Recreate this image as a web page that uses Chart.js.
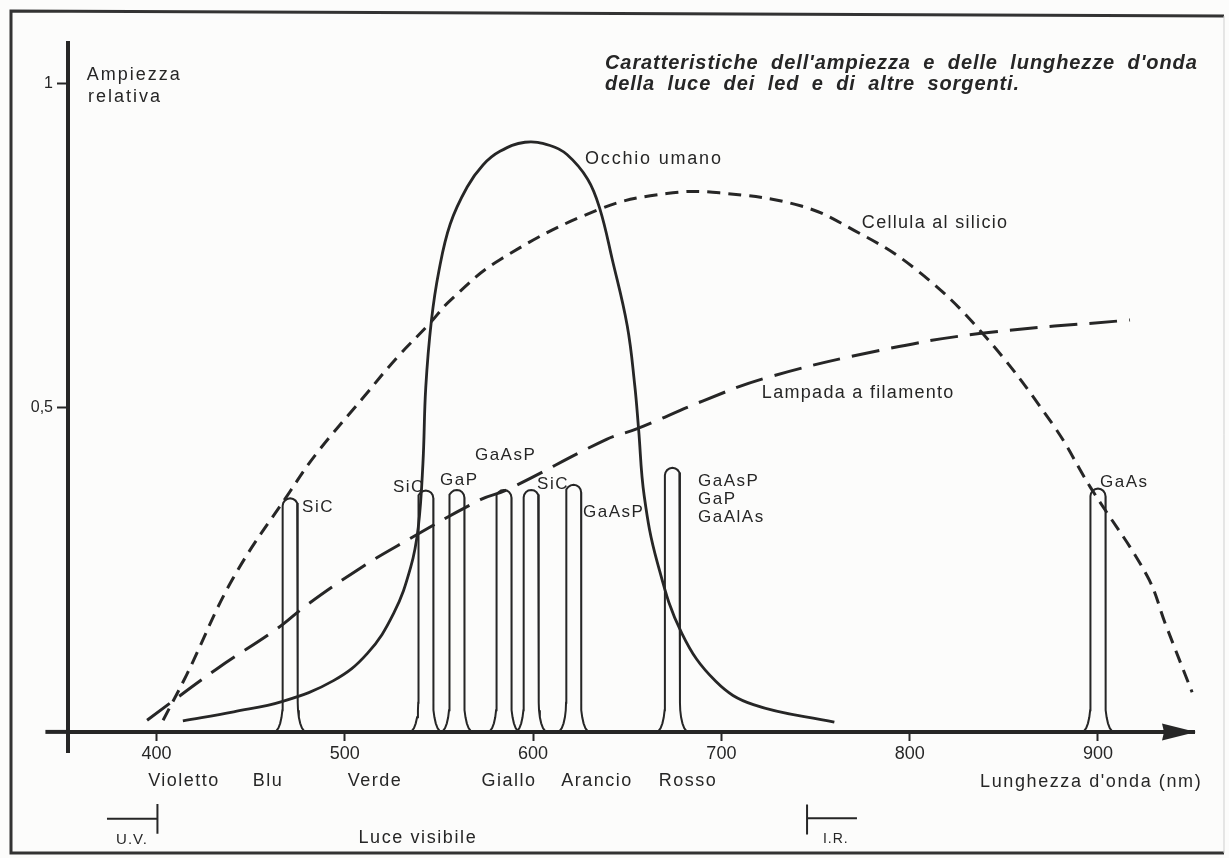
<!DOCTYPE html>
<html lang="it">
<head>
<meta charset="utf-8">
<title>Ampiezza relativa e lunghezza d'onda</title>
<script src="https://cdn.jsdelivr.net/npm/chart.js@4.4.1/dist/chart.umd.min.js"></script>
<style>
  html, body { margin: 0; padding: 0; background: #fcfcfb; }
  #chart { display: block; }
</style>
</head>
<body>
<canvas id="chart" width="1229" height="858"></canvas>
<script>
// Wavelength (nm) against relative amplitude (0..1)
const eyeNm  = [414, 441, 467, 494, 512, 526, 535, 539, 541.5, 543, 546, 550, 556, 565, 573.4, 582.4, 595.7, 609, 618, 629, 635.5, 642, 650, 654, 656, 659, 666, 679, 697, 717, 760];
const eyeAmp = [0.017, 0.031, 0.047, 0.079, 0.121, 0.183, 0.254, 0.315, 0.414, 0.531, 0.634, 0.711, 0.783, 0.840, 0.874, 0.895, 0.909, 0.904, 0.890, 0.852, 0.806, 0.729, 0.626, 0.534, 0.468, 0.364, 0.261, 0.152, 0.078, 0.042, 0.015];

const siliconNm  = [403.5, 416, 440.5, 471, 485.2, 509.7, 527.7, 545.2, 555.9, 582.4, 635.5, 671, 699, 742, 770, 802, 837, 876, 896, 926, 936, 950];
const siliconAmp = [0.018, 0.088, 0.236, 0.371, 0.430, 0.515, 0.577, 0.630, 0.665, 0.728, 0.806, 0.830, 0.831, 0.811, 0.774, 0.716, 0.620, 0.474, 0.377, 0.241, 0.165, 0.061];

const lampNm  = [395, 432, 464, 480, 508, 528, 572, 586, 639, 655, 690, 724, 784, 837, 917];
const lampAmp = [0.018, 0.097, 0.159, 0.196, 0.252, 0.287, 0.358, 0.373, 0.451, 0.467, 0.510, 0.546, 0.588, 0.614, 0.635];

// LED emission lines: peak wavelength and height
const ledNm  = [471, 543, 559.5, 584.5, 599, 621.5, 674, 900];
const ledAmp = [0.360, 0.372, 0.373, 0.373, 0.373, 0.381, 0.407, 0.375];

const xTicks = [400, 500, 600, 700, 800, 900];
const yTicks = [0.5, 1];
const yTickLabels = ['0,5', '1'];

const colourNames = ['Violetto', 'Blu', 'Verde', 'Giallo', 'Arancio', 'Rosso'];
const colourNm    = [414.6, 459.2, 516, 587.2, 634, 682.3];

const ink = '#262626';

// narrow band drawn as a rounded column with flared foot
const PEAK_HALF = 4;
const PEAK_FOOT = 8.5;
const FOOT_H = 0.045;
const CAP_H = 0.0116;
function peakOutline(centre, height) {
  const pts = [];
  const a = PEAK_FOOT - PEAK_HALF;
  for (let i = 0; i <= 6; i++) {
    const t = -Math.PI / 2 + (i / 6) * Math.PI / 2;
    pts.push({ x: centre - PEAK_FOOT + a * Math.cos(t), y: FOOT_H + FOOT_H * Math.sin(t) });
  }
  for (let i = 0; i <= 8; i++) {
    const t = (i / 8) * Math.PI;
    pts.push({ x: centre - PEAK_HALF * Math.cos(t), y: height - CAP_H + CAP_H * Math.sin(t) });
  }
  for (let i = 0; i <= 6; i++) {
    const t = Math.PI + (i / 6) * Math.PI / 2;
    pts.push({ x: centre + PEAK_FOOT + a * Math.cos(t), y: FOOT_H + FOOT_H * Math.sin(t) });
  }
  return pts;
}

const toPoints = (xs, ys) => xs.map((x, i) => ({ x, y: ys[i] }));

const datasets = [
  { label: 'Occhio umano', data: toPoints(eyeNm, eyeAmp), borderWidth: 2.8, borderDash: [], tension: 0.4 },
  { label: 'Cellula al silicio', data: toPoints(siliconNm, siliconAmp), borderWidth: 3, borderDash: [13, 8], tension: 0.4 },
  { label: 'Lampada a filamento', data: toPoints(lampNm, lampAmp), borderWidth: 3, borderDash: [28, 12], tension: 0.4 }
];
ledNm.forEach((nm, i) => {
  datasets.push({ label: 'LED ' + nm, data: peakOutline(nm, ledAmp[i]), borderWidth: 2, tension: 0 });
});
datasets.forEach(d => {
  d.showLine = true;
  d.borderColor = ink;
  d.pointRadius = 0;
  d.fill = false;
});

// text placed in data units (nm, amplitude)
const notes = [
  { t: 'Ampiezza', x: 363, y: 1.012, size: 18, ls: 2 },
  { t: 'relativa', x: 363.6, y: 0.978, size: 18, ls: 2 },
  { t: 'Occhio umano', x: 627.6, y: 0.883, size: 18, ls: 1.8 },
  { t: 'Cellula al silicio', x: 774.6, y: 0.784, size: 18, ls: 1.3 },
  { t: 'Lampada a filamento', x: 721.5, y: 0.522, size: 18, ls: 1.3 },
  { t: 'SiC', x: 477.3, y: 0.346, size: 17, ls: 1.5 },
  { t: 'SiC', x: 525.6, y: 0.377, size: 17, ls: 1.5 },
  { t: 'GaP', x: 550.6, y: 0.388, size: 17, ls: 1.5 },
  { t: 'GaAsP', x: 569.1, y: 0.427, size: 17, ls: 1.5 },
  { t: 'SiC', x: 602.1, y: 0.381, size: 17, ls: 1.5 },
  { t: 'GaAsP', x: 626.5, y: 0.339, size: 17, ls: 1.5 },
  { t: 'GaAsP', x: 687.6, y: 0.387, size: 17, ls: 1.5 },
  { t: 'GaP', x: 687.6, y: 0.358, size: 17, ls: 1.5 },
  { t: 'GaAlAs', x: 687.6, y: 0.331, size: 17, ls: 1.5 },
  { t: 'GaAs', x: 901.1, y: 0.384, size: 17, ls: 1.5 },
  { t: "Lunghezza d'onda (nm)", x: 837.4, y: -0.077, size: 18, ls: 1.6 },
  { t: 'U.V.', x: 387, y: -0.166, size: 15, ls: 1, align: 'center' },
  { t: 'Luce visibile', x: 538.8, y: -0.164, size: 18, ls: 1.6, align: 'center' },
  { t: 'I.R.', x: 760.8, y: -0.165, size: 14, ls: 1, align: 'center' }
];
colourNames.forEach((name, i) => {
  notes.push({ t: name, x: colourNm[i], y: -0.076, size: 18, ls: 1.5, align: 'center' });
});

const titleLines = ["Caratteristiche dell'ampiezza e delle lunghezze d'onda", 'della luce dei led e di altre sorgenti.'];

function drawText(ctx, str, px, py, font, ls, align) {
  ctx.save();
  ctx.font = font;
  ctx.fillStyle = ink;
  ctx.textAlign = align || 'left';
  ctx.textBaseline = 'middle';
  ctx.letterSpacing = ls + 'px';
  ctx.fillText(str, px, py);
  ctx.restore();
}

const decor = {
  id: 'decor',
  beforeDraw(chart) {
    const { ctx, width, height } = chart;
    ctx.save();
    ctx.fillStyle = '#fcfcfb';
    ctx.fillRect(0, 0, width, height);
    // page frame
    ctx.strokeStyle = '#333';
    ctx.lineWidth = 3;
    ctx.beginPath();
    ctx.moveTo(1224, 16);
    ctx.lineTo(11, 11);
    ctx.lineTo(11, 853);
    ctx.lineTo(1224, 853);
    ctx.stroke();
    ctx.strokeStyle = '#cfcfcf';
    ctx.lineWidth = 1;
    ctx.beginPath();
    ctx.moveTo(1224, 16);
    ctx.lineTo(1224, 853);
    ctx.stroke();
    ctx.restore();
  },
  afterDraw(chart) {
    const { ctx, chartArea } = chart;
    const xs = chart.scales.x, ys = chart.scales.y;
    const px = v => xs.getPixelForValue(v);
    const py = v => ys.getPixelForValue(v);
    const y0 = py(0);

    ctx.save();
    ctx.strokeStyle = ink;
    ctx.fillStyle = ink;
    // x axis continues a little left of the y axis
    ctx.lineWidth = 4;
    ctx.beginPath();
    ctx.moveTo(px(341), y0);
    ctx.lineTo(chartArea.left, y0);
    ctx.stroke();
    // arrow head
    ctx.beginPath();
    ctx.moveTo(chartArea.right + 2, y0);
    ctx.lineTo(chartArea.right - 32, y0 - 8.5);
    ctx.lineTo(chartArea.right - 30, y0);
    ctx.lineTo(chartArea.right - 32, y0 + 8.5);
    ctx.closePath();
    ctx.fill();

    // U.V. and I.R. limits
    ctx.lineWidth = 2;
    ctx.beginPath();
    ctx.moveTo(px(373.7), py(-0.134));
    ctx.lineTo(px(400.5), py(-0.134));
    ctx.moveTo(px(400.5), py(-0.111));
    ctx.lineTo(px(400.5), py(-0.157));
    ctx.moveTo(px(745.5), py(-0.112));
    ctx.lineTo(px(745.5), py(-0.158));
    ctx.moveTo(px(745.5), py(-0.133));
    ctx.lineTo(px(772), py(-0.133));
    ctx.stroke();
    ctx.restore();

    notes.forEach(n => {
      drawText(ctx, n.t, px(n.x), py(n.y), n.size + 'px "Liberation Sans", Arial, sans-serif', n.ls, n.align);
    });

    ctx.save();
    ctx.wordSpacing = '6px';
    titleLines.forEach((line, i) => {
      drawText(ctx, line, px(638.2), py(1.031 - i * 0.033), 'italic bold 20px "Liberation Sans", Arial, sans-serif', 0.9);
    });
    ctx.restore();
  }
};

new Chart(document.getElementById('chart'), {
  type: 'scatter',
  data: { datasets },
  options: {
    responsive: false,
    animation: false,
    events: [],
    layout: { padding: { left: 28, right: 35, top: 43, bottom: 106 } },
    plugins: { legend: { display: false }, tooltip: { enabled: false } },
    scales: {
      x: {
        type: 'linear',
        min: 353,
        max: 951,
        position: { y: 0 },
        afterBuildTicks: s => { s.ticks = xTicks.map(v => ({ value: v })); },
        ticks: { color: ink, padding: 4, font: { family: '"Liberation Sans", Arial, sans-serif', size: 18 }, callback: v => String(v) },
        grid: { drawOnChartArea: false, drawTicks: true, tickLength: 7, tickWidth: 2, tickColor: ink },
        border: { display: true, color: ink, width: 4 }
      },
      y: {
        type: 'linear',
        min: -0.031,
        max: 1.062,
        position: 'left',
        afterFit: s => { s.width = 40; },
        afterBuildTicks: s => { s.ticks = yTicks.map(v => ({ value: v })); },
        ticks: { color: ink, padding: 4, font: { family: '"Liberation Sans", Arial, sans-serif', size: 16 }, callback: v => yTickLabels[yTicks.indexOf(v)] },
        grid: { drawOnChartArea: false, drawTicks: true, tickLength: 11, tickWidth: 2, tickColor: ink },
        border: { display: true, color: ink, width: 4 }
      }
    }
  },
  plugins: [decor]
});
</script>
</body>
</html>
